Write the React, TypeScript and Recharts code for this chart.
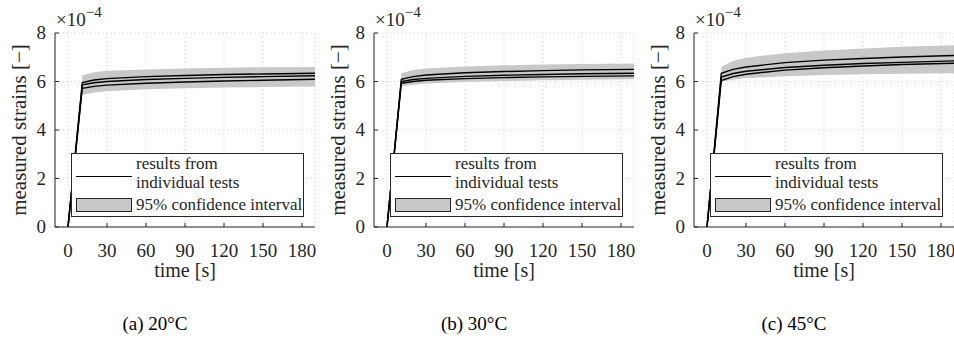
import { ComposedChart, Line, Area, XAxis, YAxis, CartesianGrid } from 'recharts';

// time [s] and strains in units of 1e-4
const time = [0, 11, 20, 30, 60, 90, 120, 150, 190];
const xTicks = [0, 30, 60, 90, 120, 150, 180];
const yTicks = [0, 2, 4, 6, 8];

const test1_20 = [0, 5.96, 6.06, 6.12, 6.2, 6.25, 6.29, 6.31, 6.34];
const test2_20 = [0, 5.86, 5.95, 6.0, 6.08, 6.13, 6.17, 6.2, 6.24];
const test3_20 = [0, 5.72, 5.8, 5.85, 5.93, 5.98, 6.02, 6.05, 6.09];
const ciLow_20 = [null, 5.44, 5.55, 5.6, 5.68, 5.72, 5.75, 5.77, 5.79];
const ciHigh_20 = [null, 6.26, 6.38, 6.44, 6.5, 6.54, 6.57, 6.59, 6.6];

const test1_30 = [0, 6.09, 6.2, 6.27, 6.36, 6.41, 6.45, 6.48, 6.5];
const test2_30 = [0, 6.0, 6.08, 6.13, 6.21, 6.26, 6.29, 6.32, 6.34];
const test3_30 = [0, 5.93, 6.0, 6.05, 6.12, 6.16, 6.19, 6.21, 6.23];
const ciLow_30 = [null, 5.79, 5.87, 5.92, 5.98, 6.02, 6.05, 6.07, 6.09];
const ciHigh_30 = [null, 6.34, 6.47, 6.54, 6.62, 6.67, 6.7, 6.72, 6.74];

const test1_45 = [0, 6.34, 6.5, 6.6, 6.78, 6.88, 6.95, 7.01, 7.07];
const test2_45 = [0, 6.18, 6.33, 6.42, 6.58, 6.67, 6.74, 6.79, 6.85];
const test3_45 = [0, 6.04, 6.2, 6.3, 6.47, 6.57, 6.64, 6.7, 6.75];
const ciLow_45 = [null, 6.0, 6.08, 6.13, 6.22, 6.27, 6.3, 6.32, 6.34];
const ciHigh_45 = [null, 6.6, 6.85, 6.98, 7.17, 7.28, 7.36, 7.43, 7.5];

const captions = ['(a) 20°C', '(b) 30°C', '(c) 45°C'];
const offsets = [0, 319, 639];

const FONT = "'Liberation Serif', 'DejaVu Serif', serif";
const INK = '#262626';

const panels = [
    { tests: [test1_20, test2_20, test3_20], lo: ciLow_20, hi: ciHigh_20 },
    { tests: [test1_30, test2_30, test3_30], lo: ciLow_30, hi: ciHigh_30 },
    { tests: [test1_45, test2_45, test3_45], lo: ciLow_45, hi: ciHigh_45 }
];

const XTick = (props: any) => {
    const { x, y, payload } = props;
    return (
        <g>
            <line x1={x} x2={x} y1={y - 14} y2={y - 18} stroke={INK} />
            <text x={x} y={y} dy={16} textAnchor="middle" fill={INK} fontSize={19} fontFamily={FONT}>
                {payload.value}
            </text>
        </g>
    );
};

const YTick = (props: any) => {
    const { x, y, payload } = props;
    return (
        <g>
            <line x1={x + 9} x2={x + 13} y1={y} y2={y} stroke={INK} />
            <text x={x} y={y} dy={6} textAnchor="end" fill={INK} fontSize={19} fontFamily={FONT}>
                {payload.value}
            </text>
        </g>
    );
};

const LegendBox = () => (
    <div style={{ position: 'absolute', left: 71, top: 153, width: 233, height: 64, border: `1px solid ${INK}`, background: '#fff', boxSizing: 'border-box', fontFamily: FONT, fontSize: 17, color: INK }}>
        <div style={{ position: 'absolute', left: 4, top: 22, width: 56, height: 0, borderTop: '1.5px solid #000' }} />
        <div style={{ position: 'absolute', left: 64, top: 0, lineHeight: '19px', whiteSpace: 'nowrap' }}>results from</div>
        <div style={{ position: 'absolute', left: 64, top: 19, lineHeight: '19px', whiteSpace: 'nowrap' }}>individual tests</div>
        <div style={{ position: 'absolute', left: 4, top: 44, width: 56, height: 14, background: '#c8c8c8', border: `1px solid ${INK}`, boxSizing: 'border-box' }} />
        <div style={{ position: 'absolute', left: 64, top: 41, lineHeight: '19px', whiteSpace: 'nowrap' }}>95% confidence interval</div>
    </div>
);

function Panel({ tests, lo, hi }: { tests: number[][]; lo: (number | null)[]; hi: (number | null)[] }) {
    const data = time.map((t, i) => ({
        t,
        a: tests[0][i],
        b: tests[1][i],
        c: tests[2][i],
        band: lo[i] == null ? null : [lo[i], hi[i]]
    }));
    return (
        <ComposedChart width={320} height={290} data={data} margin={{ top: 33, right: 5, left: 0, bottom: 13 }}>
            <CartesianGrid stroke="#d0d0d0" strokeDasharray="1 3" />
            <XAxis
                dataKey="t"
                type="number"
                domain={[-10, 190]}
                ticks={xTicks}
                height={50}
                tickSize={0}
                tickMargin={14}
                tickLine={false}
                tick={<XTick />}
                axisLine={{ stroke: INK }}
                allowDataOverflow
            />
            <YAxis
                type="number"
                domain={[0, 8]}
                ticks={yTicks}
                width={55}
                tickSize={0}
                tickMargin={9}
                tickLine={false}
                tick={<YTick />}
                axisLine={{ stroke: INK }}
                allowDataOverflow
            />
            <Area dataKey="band" fill="#c8c8c8" fillOpacity={1} stroke="none" isAnimationActive={false} />
            <Line dataKey="a" stroke="#000" strokeWidth={1.4} dot={false} isAnimationActive={false} />
            <Line dataKey="b" stroke="#000" strokeWidth={1.4} dot={false} isAnimationActive={false} />
            <Line dataKey="c" stroke="#000" strokeWidth={1.4} dot={false} isAnimationActive={false} />
        </ComposedChart>
    );
}

export default function App() {
    return (
        <div style={{ position: 'absolute', left: 0, top: 0, width: 954, height: 342, overflow: 'hidden', background: '#fff' }}>
            {panels.map((p, k) => (
                <div key={k} style={{ position: 'absolute', left: offsets[k], top: 0, width: 320, height: 290 }}>
                    <Panel tests={p.tests} lo={p.lo} hi={p.hi} />
                    <LegendBox />
                </div>
            ))}
            <svg width={954} height={342} style={{ position: 'absolute', left: 0, top: 0, pointerEvents: 'none' }}>
                {captions.map((c, k) => (
                    <g key={k} fontFamily={FONT} fill={INK}>
                        <text x={offsets[k] + 56} y={26} fontSize={19}>
                            ×10<tspan dy={-9} fontSize={15}>−4</tspan>
                        </text>
                        <text transform={`translate(${offsets[k] + 26},130) rotate(-90)`} textAnchor="middle" fontSize={21}>
                            measured strains [−]
                        </text>
                        <text x={offsets[k] + 185} y={277} textAnchor="middle" fontSize={20}>
                            time [s]
                        </text>
                        <text x={offsets[k] + 155} y={330} textAnchor="middle" fontSize={19} fill="#000">
                            {c}
                        </text>
                    </g>
                ))}
            </svg>
        </div>
    );
}
